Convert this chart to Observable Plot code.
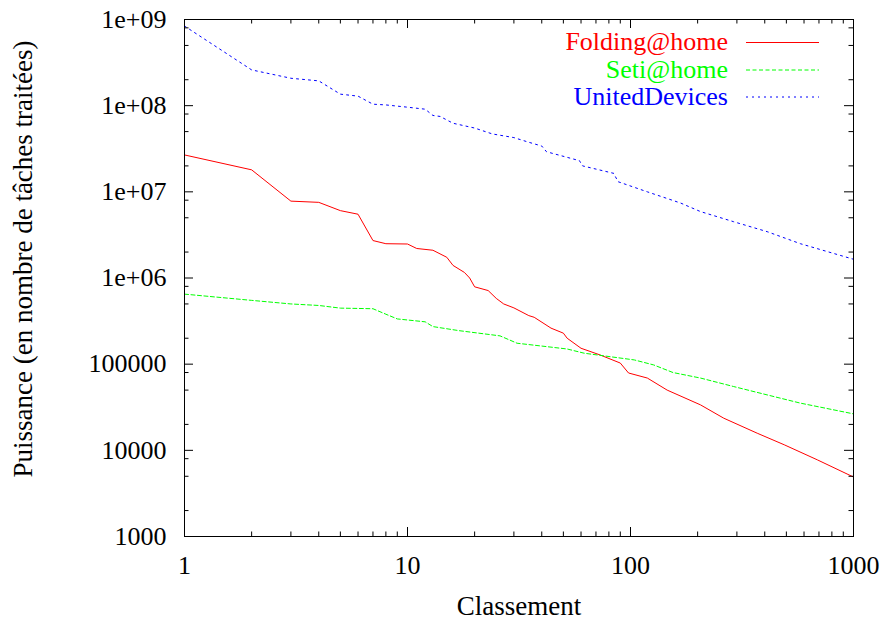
<!DOCTYPE html>
<html><head><meta charset="utf-8">
<script src="https://cdn.jsdelivr.net/npm/d3@7"></script>
<script src="https://cdn.jsdelivr.net/npm/@observablehq/plot@0.6"></script>
<style>
body{margin:0;background:#fff;}
#chart{position:relative;width:887px;height:621px;}
#chart svg{position:absolute;left:0;top:0;}
</style></head><body><div id="chart"></div>
<script>
// Data (log-log)
const foldingRank  = [1, 2, 3, 4, 5, 6, 7, 8, 10, 11, 13, 15, 16, 18, 19, 20, 23, 25, 27, 30, 35, 37, 44, 50, 52, 60, 73, 90, 98, 119, 146, 206, 262, 370, 489, 688, 1000];
const foldingValue = [2.68e7, 1.8e7, 7.8e6, 7.55e6, 6.05e6, 5.5e6, 2.72e6, 2.5e6, 2.48e6, 2.2e6, 2.1e6, 1.74e6, 1.4e6, 1.16e6, 1.0e6, 7.9e5, 7.15e5, 5.8e5, 5.0e5, 4.5e5, 3.66e5, 3.5e5, 2.62e5, 2.29e5, 2.0e5, 1.53e5, 1.28e5, 1.03e5, 7.9e4, 6.9e4, 5.0e4, 3.37e4, 2.36e4, 1.58e4, 1.16e4, 7.76e3, 4.9e3];

const setiRank  = [1, 2, 3, 4, 5, 7, 8, 9, 12, 13, 17, 26, 31, 52, 62, 104, 127, 155, 206, 290, 410, 578, 1000];
const setiValue = [6.5e5, 5.5e5, 5.0e5, 4.8e5, 4.47e5, 4.4e5, 3.8e5, 3.35e5, 3.1e5, 2.73e5, 2.45e5, 2.13e5, 1.75e5, 1.5e5, 1.34e5, 1.12e5, 9.8e4, 8.0e4, 6.9e4, 5.5e4, 4.4e4, 3.53e4, 2.65e4];

const udRank  = [1, 2, 3, 4, 5, 6, 7, 8, 10, 12, 13, 14, 16, 20, 24, 30, 35, 40, 42, 59, 61, 84, 88, 119, 168, 206, 290, 410, 578, 1000];
const udValue = [8.4e8, 2.6e8, 2.08e8, 1.94e8, 1.36e8, 1.29e8, 1.04e8, 1.02e8, 9.6e7, 9.1e7, 7.7e7, 7.5e7, 6.25e7, 5.5e7, 4.7e7, 4.26e7, 3.76e7, 3.4e7, 2.92e7, 2.3e7, 2.0e7, 1.64e7, 1.31e7, 1.0e7, 7.4e6, 5.9e6, 4.5e6, 3.45e6, 2.5e6, 1.65e6];

const seriesNames  = ["Folding@home", "Seti@home", "UnitedDevices"];
const seriesColors = ["#ff0000", "#00ff00", "#0000ff"];
const seriesDash   = [null, "4,2.5", "2,4"];

const xTicks = [1, 10, 100, 1000];
const xTickLabels = ["1", "10", "100", "1000"];
const xMinor = [2,3,4,5,6,7,8,9,20,30,40,50,60,70,80,90,200,300,400,500,600,700,800,900];
const yTicks = [1e3, 1e4, 1e5, 1e6, 1e7, 1e8, 1e9];
const yTickLabels = ["1000", "10000", "100000", "1e+06", "1e+07", "1e+08", "1e+09"];
const yMinor = [2e3,5e3,8e3,2e4,5e4,8e4,2e5,5e5,8e5,2e6,5e6,8e6,2e7,5e7,8e7,2e8,5e8,8e8];

const xTitle = "Classement";
const yTitle = "Puissance (en nombre de tâches traitées)";

const W = 887, H = 621;
const mL = 184, mR = 34, mT = 19, mB = 85;
const plotW = W - mL - mR, plotH = H - mT - mB;
const FONT = "'Liberation Serif', 'Times New Roman', serif";

const table = (r, v) => r.map((d, i) => ({rank: d, value: v[i]}));
const seriesData = [table(foldingRank, foldingValue), table(setiRank, setiValue), table(udRank, udValue)];

const chart = Plot.plot({
  width: W, height: H,
  marginLeft: mL, marginRight: mR, marginTop: mT, marginBottom: mB,
  style: {fontFamily: FONT, fontSize: "26px", background: "#fff", color: "#000"},
  x: {type: "log", domain: [1, 1000]},
  y: {type: "log", domain: [1000, 1e9]},
  marks: [
    ...seriesData.map((d, i) => Plot.line(d, {x: "rank", y: "value", stroke: seriesColors[i], strokeWidth: 1, strokeDasharray: seriesDash[i]})),
    Plot.frame({stroke: "#000", strokeWidth: 1}),
    Plot.tickX(xTicks, {x: d => d, insetTop: plotH - 9, stroke: "#000"}),
    Plot.tickX(xTicks, {x: d => d, insetBottom: plotH - 9, stroke: "#000"}),
    Plot.tickX(xMinor, {x: d => d, insetTop: plotH - 4.5, stroke: "#000"}),
    Plot.tickX(xMinor, {x: d => d, insetBottom: plotH - 4.5, stroke: "#000"}),
    Plot.tickY(yTicks, {y: d => d, insetRight: plotW - 9, stroke: "#000"}),
    Plot.tickY(yTicks, {y: d => d, insetLeft: plotW - 9, stroke: "#000"}),
    Plot.tickY(yMinor, {y: d => d, insetRight: plotW - 4.5, stroke: "#000"}),
    Plot.tickY(yMinor, {y: d => d, insetLeft: plotW - 4.5, stroke: "#000"}),
    Plot.axisX({ticks: xTicks, tickSize: 0, tickPadding: 19, tickFormat: d => xTickLabels[xTicks.indexOf(d)], label: null, fontSize: 26}),
    Plot.axisY({ticks: yTicks, tickSize: 0, tickPadding: 18, tickFormat: d => yTickLabels[yTicks.indexOf(d)], label: null, fontSize: 26}),
    Plot.text([xTitle], {frameAnchor: "bottom", text: d => d, dy: 70, lineAnchor: "middle", fontSize: 27}),
    Plot.text([yTitle], {frameAnchor: "left", text: d => d, rotate: -90, dx: -161, dy: -19, lineAnchor: "middle", textAnchor: "middle", fontSize: 27})
  ]
});
document.getElementById("chart").appendChild(chart);

// Legend overlay (top right, gnuplot style)
const leg = d3.select("#chart").append("svg").attr("width", W).attr("height", H)
  .style("pointer-events", "none").style("font-family", FONT).style("font-size", "26px");
const legRowY = [42, 69.5, 96.5];
seriesNames.forEach((name, i) => {
  leg.append("text").attr("x", 728).attr("y", legRowY[i]).attr("dy", "0.32em")
    .attr("text-anchor", "end").attr("fill", seriesColors[i]).text(name);
  leg.append("line").attr("x1", 746).attr("x2", 819)
    .attr("y1", legRowY[i] + 0.5).attr("y2", legRowY[i] + 0.5)
    .attr("stroke", seriesColors[i]).attr("stroke-width", 1)
    .attr("stroke-dasharray", seriesDash[i]);
});
</script>
</body></html>
